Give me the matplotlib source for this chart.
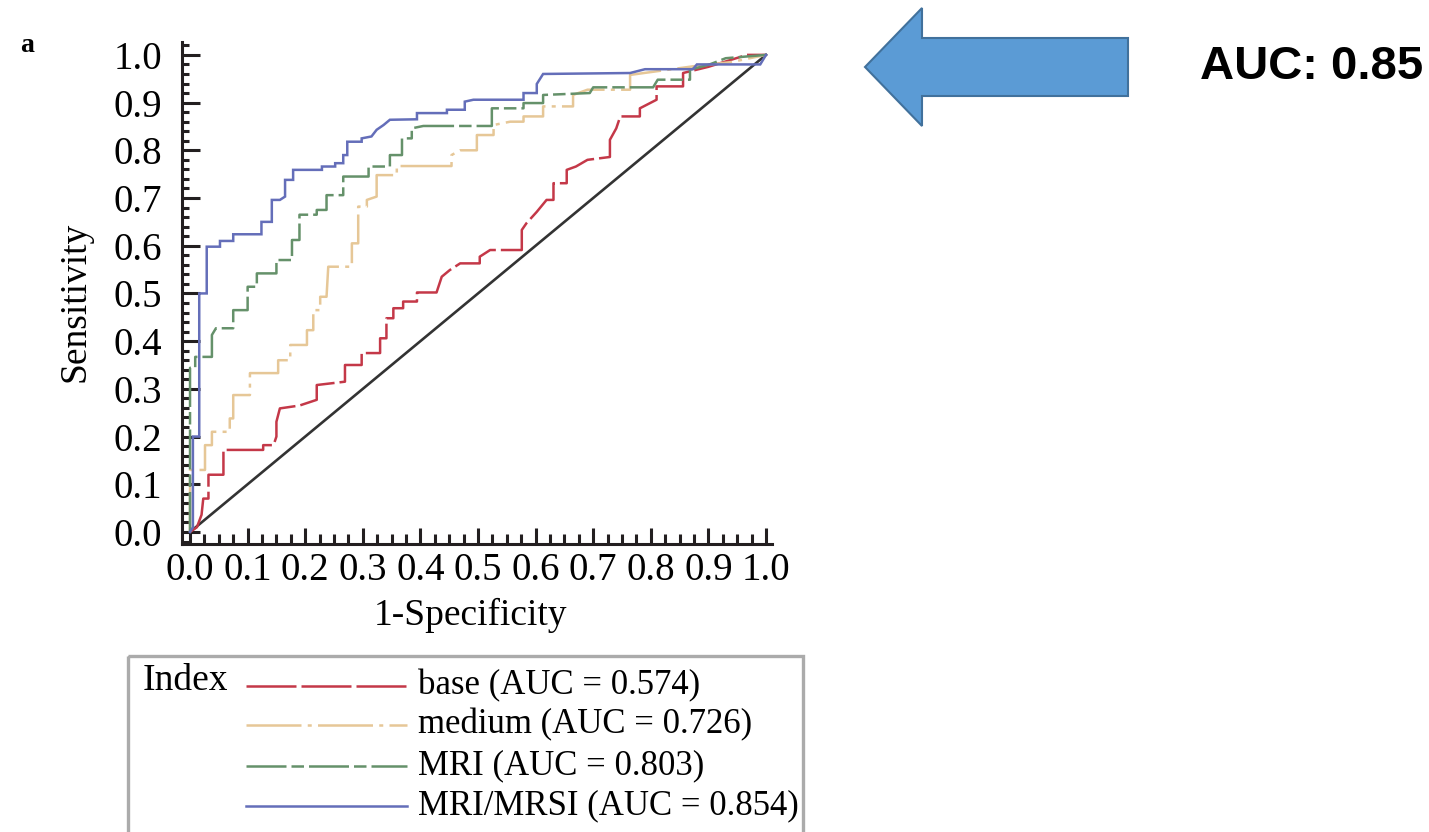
import matplotlib
matplotlib.use("Agg")
import matplotlib.pyplot as plt
import numpy as np
from matplotlib.patches import Rectangle, FancyArrow
from matplotlib.ticker import MultipleLocator

W, H = 1429, 832
plt.rcParams['font.family'] = ['Liberation Serif', 'DejaVu Serif']

# ---------------- data ----------------
series_names = ['base', 'medium', 'MRI', 'MRI/MRSI']
series_auc = [0.574, 0.726, 0.803, 0.854]

base_x = [0.0, 0.012, 0.02, 0.023, 0.032, 0.032, 0.058, 0.058, 0.127, 0.127, 0.145, 0.15, 0.15,
          0.156, 0.19, 0.22, 0.22, 0.269, 0.269, 0.298, 0.298, 0.33, 0.33, 0.341, 0.341, 0.353,
          0.353, 0.37, 0.37, 0.394, 0.394, 0.428, 0.437, 0.451, 0.469, 0.503, 0.503, 0.521, 0.576,
          0.576, 0.584, 0.602, 0.619, 0.631, 0.631, 0.654, 0.654, 0.67, 0.69, 0.729, 0.729, 0.74,
          0.747, 0.781, 0.781, 0.81, 0.81, 0.856, 0.856, 0.9, 0.967, 1.0]
base_y = [0.0, 0.01, 0.036, 0.07, 0.07, 0.12, 0.12, 0.172, 0.172, 0.182, 0.182, 0.2, 0.231,
          0.259, 0.265, 0.277, 0.308, 0.315, 0.35, 0.35, 0.375, 0.375, 0.406, 0.406, 0.448, 0.448,
          0.469, 0.469, 0.483, 0.483, 0.502, 0.502, 0.535, 0.549, 0.563, 0.563, 0.577, 0.591, 0.591,
          0.633, 0.647, 0.671, 0.696, 0.696, 0.731, 0.731, 0.759, 0.766, 0.78, 0.786, 0.822, 0.846,
          0.871, 0.871, 0.888, 0.906, 0.934, 0.934, 0.962, 0.975, 1.0, 1.0]

medium_x = [0.0, 0.0, 0.026, 0.026, 0.038, 0.038, 0.069, 0.069, 0.075, 0.075, 0.104, 0.104, 0.153,
            0.153, 0.174, 0.174, 0.203, 0.203, 0.214, 0.214, 0.226, 0.226, 0.237, 0.24, 0.281, 0.281,
            0.292, 0.292, 0.307, 0.307, 0.324, 0.324, 0.359, 0.359, 0.454, 0.454, 0.469, 0.498, 0.498,
            0.527, 0.527, 0.556, 0.579, 0.579, 0.613, 0.613, 0.665, 0.665, 0.69, 0.764, 0.764, 0.873,
            0.94, 1.0]
medium_y = [0.0, 0.13, 0.13, 0.182, 0.182, 0.21, 0.21, 0.238, 0.238, 0.287, 0.287, 0.333, 0.333,
            0.36, 0.36, 0.392, 0.392, 0.423, 0.423, 0.465, 0.465, 0.493, 0.493, 0.556, 0.556, 0.605,
            0.605, 0.682, 0.682, 0.696, 0.703, 0.748, 0.748, 0.767, 0.767, 0.79, 0.8, 0.8, 0.832,
            0.832, 0.853, 0.86, 0.86, 0.871, 0.871, 0.892, 0.892, 0.916, 0.927, 0.927, 0.958, 0.976,
            0.985, 1.0]

mri_x = [0.0, 0.0, 0.009, 0.009, 0.038, 0.038, 0.045, 0.075, 0.075, 0.1, 0.1, 0.116, 0.116, 0.15,
         0.15, 0.177, 0.177, 0.19, 0.19, 0.22, 0.22, 0.237, 0.237, 0.266, 0.266, 0.31, 0.31, 0.347,
         0.347, 0.368, 0.368, 0.385, 0.385, 0.405, 0.524, 0.524, 0.579, 0.579, 0.613, 0.613, 0.694,
         0.7, 0.804, 0.812, 0.868, 0.868, 0.9, 0.93, 1.0]
mri_y = [0.0, 0.344, 0.344, 0.367, 0.367, 0.413, 0.427, 0.427, 0.465, 0.465, 0.514, 0.514, 0.542,
         0.542, 0.57, 0.57, 0.612, 0.612, 0.665, 0.665, 0.675, 0.675, 0.706, 0.706, 0.745, 0.745,
         0.766, 0.766, 0.79, 0.79, 0.825, 0.825, 0.846, 0.851, 0.851, 0.888, 0.888, 0.899, 0.899,
         0.916, 0.92, 0.932, 0.932, 0.948, 0.948, 0.969, 0.979, 0.993, 1.0]

mrsi_x = [0.0, 0.005, 0.005, 0.016, 0.016, 0.029, 0.029, 0.052, 0.052, 0.075, 0.075, 0.124, 0.124,
          0.142, 0.142, 0.156, 0.165, 0.165, 0.179, 0.179, 0.229, 0.229, 0.252, 0.252, 0.266, 0.266,
          0.273, 0.273, 0.298, 0.298, 0.315, 0.324, 0.336, 0.347, 0.394, 0.394, 0.446, 0.446, 0.477,
          0.477, 0.492, 0.579, 0.579, 0.602, 0.602, 0.613, 0.764, 0.79, 0.873, 0.88, 0.99, 1.0]
mrsi_y = [0.0, 0.01, 0.2, 0.2, 0.5, 0.5, 0.598, 0.598, 0.61, 0.61, 0.624, 0.624, 0.65, 0.65, 0.696,
          0.696, 0.703, 0.738, 0.738, 0.759, 0.759, 0.766, 0.766, 0.773, 0.773, 0.79, 0.79, 0.818,
          0.818, 0.825, 0.829, 0.843, 0.853, 0.864, 0.865, 0.878, 0.878, 0.885, 0.885, 0.902, 0.906,
          0.906, 0.92, 0.92, 0.939, 0.96, 0.962, 0.97, 0.97, 0.98, 0.98, 1.0]

diag_x = [0.0, 1.0]
diag_y = [0.0, 1.0]

x_ticks = [0.0, 0.1, 0.2, 0.3, 0.4, 0.5, 0.6, 0.7, 0.8, 0.9, 1.0]
y_ticks = [0.0, 0.1, 0.2, 0.3, 0.4, 0.5, 0.6, 0.7, 0.8, 0.9, 1.0]
tick_labels = ['0.0', '0.1', '0.2', '0.3', '0.4', '0.5', '0.6', '0.7', '0.8', '0.9', '1.0']

# ---------------- styles ----------------
colors = ['#c43848', '#e6c797', '#65916a', '#646eb9']
dashes = [(20, 2), (22, 2.5, 1.6, 2.5), (16, 2, 5, 2), None]
lw = 1.8
curves = [(base_x, base_y), (medium_x, medium_y), (mri_x, mri_y), (mrsi_x, mrsi_y)]

fig = plt.figure(figsize=(W / 100, H / 100), dpi=100)

# pixel geometry of main axes
L, R, T, B = 181.5, 772.0, 42.0, 544.0
ax = fig.add_axes([L / W, (H - B) / H, (R - L) / W, (B - T) / H])
ax.patch.set_alpha(0)

ax.plot(diag_x, diag_y, color='#333333', lw=1.9, zorder=2)
for (cx, cy), c, d in zip(curves, colors, dashes):
    line, = ax.plot(cx, cy, color=c, lw=lw, zorder=3, solid_joinstyle='miter')
    if d is not None:
        line.set_dashes(d)

ax.set_xlim(-0.0148, 1.0104)
ax.set_ylim(-0.0252, 1.027)
for s in ['top', 'right']:
    ax.spines[s].set_visible(False)
for s in ['left', 'bottom']:
    ax.spines[s].set_linewidth(2.2)
    ax.spines[s].set_color('#231f20')

ax.set_xticks(x_ticks)
ax.set_xticklabels(tick_labels)
ax.set_yticks(y_ticks)
ax.set_yticklabels(tick_labels)
ax.xaxis.set_minor_locator(MultipleLocator(0.025))
ax.yaxis.set_minor_locator(MultipleLocator(0.02))
ax.tick_params(axis='y', which='major', direction='in', length=13, width=2.2,
               pad=14, labelsize=28, color='#231f20')
ax.tick_params(axis='y', which='minor', direction='in', length=5, width=2.2, color='#231f20')
ax.tick_params(axis='x', which='major', direction='in', length=11.5, width=2.2,
               pad=6, labelsize=28, color='#231f20')
ax.tick_params(axis='x', which='minor', direction='in', length=7, width=2.2, color='#231f20')

ax.set_ylabel('Sensitivity', fontsize=27, va='center')
ax.yaxis.set_label_coords((75 - L) / (R - L), (B - 302) / (B - T))
ax.set_xlabel('1-Specificity', fontsize=27, va='center')
ax.xaxis.set_label_coords((470 - L) / (R - L), (B - 615) / (B - T))

# ---------------- overlay (pixel coordinates) ----------------
ov = fig.add_axes([0, 0, 1, 1], zorder=5)
ov.set_xlim(0, W)
ov.set_ylim(H, 0)
ov.axis('off')
ov.patch.set_alpha(0)

ov.text(27, 46, 'a', fontsize=20, fontweight='bold', ha='center', va='center')

# legend box
ov.add_patch(Rectangle((128, 656), 675, 220, facecolor='none', edgecolor='#ababab', lw=2.4))
ov.text(143, 681, 'Index', fontsize=27, ha='left', va='center')
rows = [686, 725, 766, 806]
for name, auc, c, d, yy in zip(series_names, series_auc, colors, dashes, rows):
    ln, = ov.plot([246, 407], [yy, yy], color=c, lw=lw)
    if d is not None:
        ln.set_dashes(d)
    ov.text(418, yy, f'{name} (AUC = {auc:.3f})', fontsize=25, ha='left', va='center')

# arrow and annotation
ov.add_patch(FancyArrow(1128, 67, -263, 0, width=58, head_width=118, head_length=57,
                        length_includes_head=True, facecolor='#5b9bd5', edgecolor='#41719c', lw=1.5))
ov.text(1200, 67, 'AUC: 0.85', fontsize=34, fontweight='bold', ha='left', va='center',
        family=['Liberation Sans', 'DejaVu Sans'])

fig.savefig('out.png', dpi=100)
